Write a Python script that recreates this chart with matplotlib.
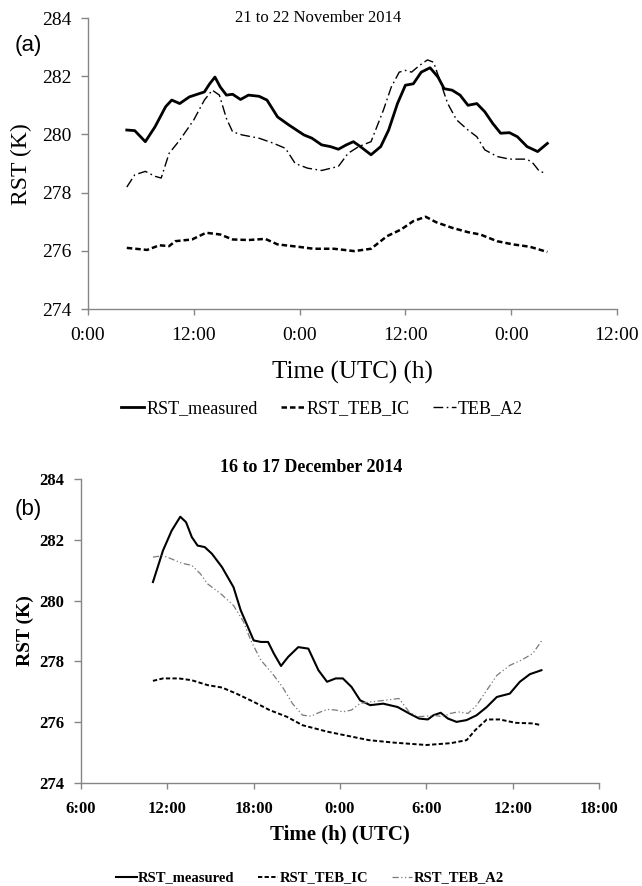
import matplotlib
matplotlib.use("Agg")
import matplotlib.pyplot as plt

# ---------------- Data: panel (a) 21 to 22 November 2014 (hours from 21 Nov 0:00 UTC)
a_meas_h = [4.4, 5.3, 6.5, 7.6, 8.8, 9.5, 10.4, 11.5, 13.2, 13.8, 14.4, 15.0, 15.7, 16.4, 17.3,
            18.2, 19.4, 20.3, 21.5, 22.8, 24.5, 25.4, 26.5, 27.5, 28.4, 29.3, 30.1, 30.9, 32.1,
            33.2, 34.1, 35.1, 36.0, 36.9, 37.8, 38.8, 39.7, 40.4, 41.3, 42.2, 43.1, 44.1, 45.0,
            45.9, 46.8, 47.8, 48.7, 49.8, 51.0, 52.1]
a_meas_v = [280.15, 280.13, 279.75, 280.26, 280.95, 281.18, 281.06, 281.29, 281.46, 281.74, 281.97,
            281.63, 281.35, 281.38, 281.20, 281.35, 281.31, 281.18, 280.60, 280.32, 279.98, 279.87,
            279.64, 279.58, 279.49, 279.64, 279.75, 279.58, 279.30, 279.58, 280.15, 281.06, 281.69,
            281.74, 282.14, 282.29, 281.97, 281.57, 281.52, 281.35, 281.00, 281.06, 280.78, 280.38,
            280.04, 280.06, 279.92, 279.58, 279.41, 279.69]

a_ic_h = [4.4, 6.7, 8.1, 9.2, 9.9, 11.8, 13.4, 15.0, 16.4, 18.2, 20.1, 21.5, 23.8, 25.6, 27.9,
          30.2, 32.1, 33.9, 35.5, 36.9, 38.3, 39.5, 41.3, 43.1, 44.5, 46.4, 48.2, 50.1, 52.1]
a_ic_v = [276.10, 276.03, 276.19, 276.16, 276.33, 276.39, 276.62, 276.56, 276.39, 276.37, 276.41,
          276.22, 276.14, 276.07, 276.07, 275.99, 276.07, 276.50, 276.73, 277.02, 277.17, 276.98,
          276.79, 276.64, 276.56, 276.33, 276.22, 276.14, 275.96]

a_a2_h = [4.4, 5.3, 6.5, 7.6, 8.3, 9.2, 10.4, 12.0, 13.2, 14.1, 14.9, 15.7, 16.4, 17.5, 19.4,
          21.0, 22.4, 23.5, 24.9, 26.5, 28.4, 29.5, 30.7, 32.1, 33.5, 34.4, 35.3, 36.0, 36.7,
          37.6, 38.5, 39.2, 39.9, 40.8, 41.8, 43.1, 44.1, 45.0, 46.4, 47.8, 49.8, 50.5, 51.2, 51.9]
a_a2_v = [278.19, 278.61, 278.73, 278.56, 278.50, 279.35, 279.80, 280.50, 281.18, 281.52, 281.35,
          280.55, 280.09, 279.98, 279.87, 279.70, 279.52, 279.00, 278.84, 278.76, 278.90, 279.35,
          279.58, 279.75, 280.83, 281.63, 282.14, 282.20, 282.14, 282.37, 282.56, 282.48, 281.86,
          281.06, 280.50, 280.15, 279.92, 279.47, 279.24, 279.15, 279.15, 279.00, 278.73, 278.67]

a_ticks = [0, 12, 24, 36, 48, 60]
a_ticklabels = ["0:00", "12:00", "0:00", "12:00", "0:00", "12:00"]

# ---------------- Data: panel (b) 16 to 17 December 2014 (hours from 16 Dec 0:00 UTC)
b_meas_h = [11.0, 11.7, 12.3, 12.9, 13.3, 13.7, 14.1, 14.6, 15.1, 15.8, 16.6, 17.1, 17.6, 18.0,
            18.5, 19.0, 19.4, 19.9, 20.4, 21.1, 21.8, 22.5, 23.1, 23.7, 24.2, 24.8, 25.4, 26.1,
            27.0, 28.0, 28.8, 29.5, 30.1, 30.5, 31.0, 31.5, 32.1, 32.8, 33.5, 34.2, 34.9, 35.8,
            36.5, 37.2, 38.0]
b_meas_v = [280.61, 281.65, 282.30, 282.76, 282.58, 282.09, 281.81, 281.76, 281.54, 281.10, 280.44,
            279.68, 279.13, 278.69, 278.64, 278.64, 278.26, 277.85, 278.15, 278.47, 278.42, 277.71,
            277.33, 277.44, 277.44, 277.16, 276.72, 276.56, 276.61, 276.50, 276.29, 276.12, 276.09,
            276.23, 276.31, 276.12, 276.01, 276.07, 276.23, 276.50, 276.83, 276.94, 277.33, 277.58,
            277.71]

b_ic_h = [11.0, 11.7, 12.8, 13.7, 14.8, 15.8, 16.8, 18.0, 19.1, 20.3, 21.4, 22.3, 23.1, 26.0,
          27.7, 30.0, 31.7, 32.8, 33.4, 34.2, 35.1, 36.2, 37.4, 38.0]
b_ic_v = [277.36, 277.44, 277.44, 277.38, 277.22, 277.14, 276.94, 276.67, 276.40, 276.18, 275.90,
          275.79, 275.69, 275.41, 275.33, 275.25, 275.31, 275.41, 275.74, 276.09, 276.09, 275.98,
          275.96, 275.90]

b_a2_h = [11.0, 11.7, 12.3, 13.0, 13.7, 14.3, 14.8, 15.7, 16.6, 17.3, 17.8, 18.5, 19.3, 20.0,
          20.7, 21.4, 22.0, 22.5, 23.1, 23.7, 24.2, 24.8, 25.4, 26.2, 27.1, 28.1, 28.8, 29.4,
          30.0, 30.5, 31.1, 31.7, 32.2, 32.9, 33.5, 34.2, 34.9, 35.8, 36.6, 37.4, 38.0]
b_a2_v = [281.43, 281.48, 281.37, 281.23, 281.16, 280.88, 280.55, 280.23, 279.84, 279.30, 278.69,
          278.04, 277.60, 277.16, 276.61, 276.23, 276.20, 276.31, 276.42, 276.40, 276.34, 276.40,
          276.62, 276.67, 276.72, 276.78, 276.34, 276.18, 276.20, 276.23, 276.18, 276.29, 276.34,
          276.29, 276.56, 277.05, 277.54, 277.87, 278.04, 278.26, 278.67]

b_ticks = [6, 12, 18, 24, 30, 36, 42]
b_ticklabels = ["6:00", "12:00", "18:00", "0:00", "6:00", "12:00", "18:00"]

y_ticks = [274, 276, 278, 280, 282, 284]

# ---------------- Figure
W, H = 642, 886
fig = plt.figure(figsize=(W / 100, H / 100), dpi=100)
SERIF = "Liberation Serif"
SANS = "Liberation Sans"
SPINE = "#868686"


def fx(px):
    return px / W


def fy(py):
    return 1 - py / H


def style_axes(ax, xticks, xlabels, size, weight, xpad, ypad):
    for s in ("top", "right"):
        ax.spines[s].set_visible(False)
    for s in ("left", "bottom"):
        ax.spines[s].set_color(SPINE)
        ax.spines[s].set_linewidth(1.0)
    ax.set_ylim(274, 284)
    ax.set_yticks(y_ticks)
    ax.set_yticklabels([str(v) for v in y_ticks], fontfamily=SERIF, fontsize=size, fontweight=weight)
    ax.set_xticks(xticks)
    ax.set_xticklabels(xlabels, fontfamily=SERIF, fontsize=size, fontweight=weight)
    ax.set_xlim(xticks[0], xticks[-1])
    ax.tick_params(axis="x", direction="out", length=4, width=1, color=SPINE, pad=xpad)
    ax.tick_params(axis="y", direction="out", length=5, width=1, color=SPINE, pad=ypad)


# Panel (a)
ax1 = fig.add_axes([fx(88), fy(309), fx(617) - fx(88), fy(18) - fy(309)])
l1, = ax1.plot(a_meas_h, a_meas_v, color="black", lw=2.0, solid_joinstyle="round")
l2, = ax1.plot(a_ic_h, a_ic_v, color="black", lw=1.8, dashes=(2.2, 1.2))
l3, = ax1.plot(a_a2_h, a_a2_v, color="black", lw=1.0, dashes=(7, 2.5, 1.2, 2.5))
style_axes(ax1, a_ticks, a_ticklabels, 14, "normal", 9, 7)

fig.text(fx(318), fy(18), "21 to 22 November 2014", fontfamily=SERIF, fontsize=12,
         ha="center", va="center")
fig.text(fx(28), fy(45), "(a)", fontfamily=SANS, fontsize=16, ha="center", va="center")
fig.text(fx(21), fy(164), "RST (K)", fontfamily=SERIF, fontsize=17, rotation=90,
         ha="center", va="center")
fig.text(fx(352), fy(372), "Time (UTC) (h)", fontfamily=SERIF, fontsize=18,
         ha="center", va="center")
fig.legend([l1, l2, l3], ["RST_measured", "RST_TEB_IC", "TEB_A2"], loc="center",
           bbox_to_anchor=(fx(322), fy(409)), ncol=3, frameon=False,
           prop={"family": SERIF, "size": 13}, handlelength=1.3, handletextpad=0.1,
           columnspacing=1.3)

# Panel (b)
ax2 = fig.add_axes([fx(81), fy(783), fx(599) - fx(81), fy(479) - fy(783)])
m1, = ax2.plot(b_meas_h, b_meas_v, color="black", lw=1.5)
m2, = ax2.plot(b_ic_h, b_ic_v, color="black", lw=1.4, dashes=(2.2, 1.2))
m3, = ax2.plot(b_a2_h, b_a2_v, color="#7a7a7a", lw=0.9, dashes=(5, 2, 1, 2, 1, 2))
style_axes(ax2, b_ticks, b_ticklabels, 12, "bold", 9, 7)

fig.text(fx(311), fy(467), "16 to 17 December 2014", fontfamily=SERIF, fontsize=13,
         fontweight="bold", ha="center", va="center")
fig.text(fx(28), fy(509), "(b)", fontfamily=SANS, fontsize=16, ha="center", va="center")
fig.text(fx(25), fy(631), "RST (K)", fontfamily=SERIF, fontsize=14, fontweight="bold",
         rotation=90, ha="center", va="center")
fig.text(fx(340), fy(834), "Time (h) (UTC)", fontfamily=SERIF, fontsize=15, fontweight="bold",
         ha="center", va="center")
fig.legend([m1, m2, m3], ["RST_measured", "RST_TEB_IC", "RST_TEB_A2"], loc="center",
           bbox_to_anchor=(fx(310), fy(878)), ncol=3, frameon=False,
           prop={"family": SERIF, "size": 10.5, "weight": "bold"}, handlelength=1.4,
           handletextpad=0.1, columnspacing=1.6)

fig.savefig("out.png", dpi=100)
